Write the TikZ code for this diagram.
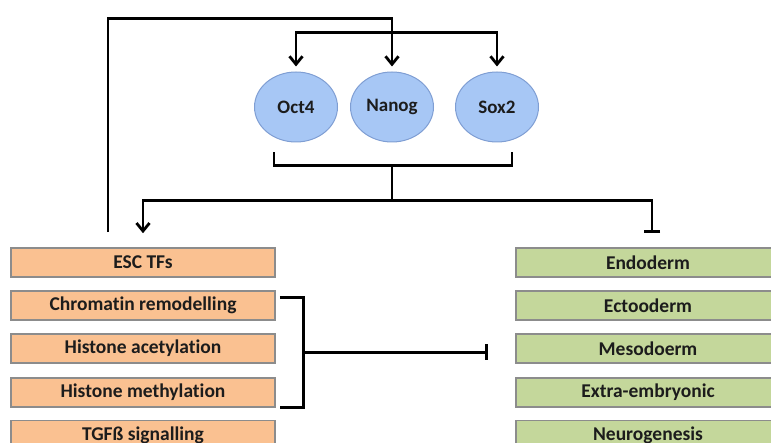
\documentclass[tikz,border=0pt]{standalone}
\usepackage{fontspec}
\setmainfont{Carlito}[Ligatures={NoCommon}]
\usetikzlibrary{calc}
\usetikzlibrary{arrows.meta}
\usetikzlibrary{shapes.geometric}
\definecolor{escorange}{HTML}{FAC191}
\definecolor{fategreen}{HTML}{C4D79B}
\definecolor{tfblue}{HTML}{A7C7F5}
\definecolor{tfedge}{HTML}{7F9ED3}
\definecolor{boxedge}{HTML}{8C8C8C}
\definecolor{inktext}{HTML}{1C1C1C}
\begin{document}
\begin{tikzpicture}[x=1pt,y=-1pt,line width=2.8pt,
  tf/.style={ellipse,draw=tfedge,line width=1pt,fill=tfblue,inner sep=0pt,text=inktext,
    minimum width=83pt,minimum height=70pt,font=\bfseries\fontsize{19}{22}\selectfont},
  escbox/.style={draw=boxedge,line width=1.5pt,fill=escorange,inner sep=0pt,text=inktext,
    minimum width=264pt,minimum height=29pt,font=\bfseries\fontsize{19.5}{22}\selectfont},
  fatebox/.style={escbox,fill=fategreen},
  act/.style={-{Straight Barb[length=8pt,width=13pt]}},
  inh/.style={-{Bar[width=16pt]}}]
\useasboundingbox (0,0) rectangle (771,443);
\def\lx{143}
\def\rx{648}
% core factors
\node[tf] (oct) at (296,107) {Oct4};
\node[tf] (nanog) at (392,107) {Nanog};
\node[tf] (sox) at (497,107) {Sox2};
% left column
\node[escbox] (esc) at (\lx,262.5) {ESC TFs};
\node[escbox] (chrom) at (\lx,305.5) {Chromatin remodelling};
\node[escbox] (acet) at (\lx,348.5) {Histone acetylation};
\node[escbox] (meth) at (\lx,392.5) {Histone methylation};
\node[escbox] (tgf) at (\lx,435) {TGFß signalling};
% right column
\node[fatebox] (endo) at (\rx,262.5) {Endoderm};
\node[fatebox] (ecto) at (\rx,305.5) {Ectooderm};
\node[fatebox] (meso) at (\rx,348.5) {Mesodoerm};
\node[fatebox] (extra) at (\rx,392.5) {Extra-embryonic};
\node[fatebox] (neuro) at (\rx,435) {Neurogenesis};

\draw[act] ($(esc.north)+(-35,-15)$) |- ($(nanog.north)+(0,-53)$) -- ($(nanog.north)+(0,-5)$);
\draw[{Straight Barb[length=8pt,width=13pt]}-{Straight Barb[length=8pt,width=13pt]}]
  ($(oct.north)+(0,-5)$) |- ($(sox.north)+(0,-39)$) -- ($(sox.north)+(0,-5)$);
\draw ($(oct.south)+(-22,10)$) |- ($(sox.south)+(15,23)$) -- ($(sox.south)+(15,10)$);
\draw ($(nanog.south)+(0,23)$) -- ++(0,35) coordinate (split);
\draw[act] (split) -| ($(esc.north)+(0,-14)$);
\draw[inh] (split) -| ($(endo.north)+(4,-14)$);
\draw ($(chrom.east)+(4,-8)$) -| ($(meth.east)+(28,15)$) -- ($(meth.east)+(4,15)$);
\draw[inh] ($(acet.east)+(28,4)$) -- ($(meso.west)+(-27,4)$);
\end{tikzpicture}
\end{document}
